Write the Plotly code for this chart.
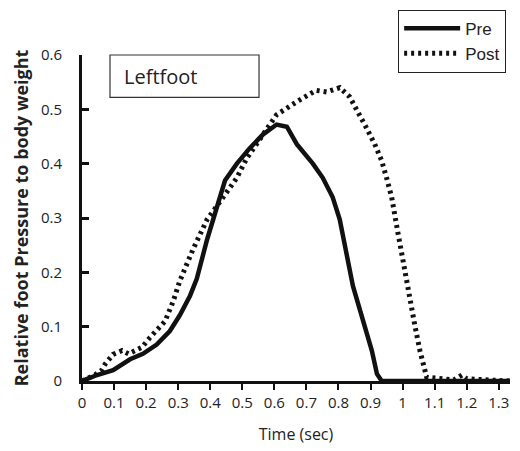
import plotly.graph_objects as go

# Pre (solid)
pre_t = [0, 0.047, 0.097, 0.15, 0.19, 0.233, 0.274, 0.305, 0.337, 0.358, 0.39, 0.42,
         0.446, 0.483, 0.524, 0.565, 0.607, 0.639, 0.67, 0.72, 0.751, 0.782, 0.804,
         0.845, 0.876, 0.904, 0.92, 0.935, 1.335]
pre_v = [0, 0.011, 0.02, 0.04, 0.05, 0.067, 0.092, 0.121, 0.157, 0.188, 0.26, 0.32,
         0.369, 0.40, 0.429, 0.454, 0.472, 0.468, 0.436, 0.40, 0.374, 0.338, 0.297,
         0.175, 0.116, 0.056, 0.013, 0, 0]

# Post (dotted)
post_t = [0, 0.04, 0.062, 0.072, 0.097, 0.125, 0.145, 0.165, 0.187, 0.212, 0.233, 0.259,
          0.284, 0.305, 0.346, 0.39, 0.44, 0.483, 0.514, 0.555, 0.607, 0.67, 0.73, 0.763,
          0.804, 0.835, 0.867, 0.888, 0.913, 0.935, 0.95, 0.966, 0.982, 1.007, 1.022,
          1.038, 1.054, 1.075, 1.16, 1.185, 1.2, 1.335]
post_v = [0, 0.011, 0.02, 0.031, 0.049, 0.056, 0.05, 0.056, 0.062, 0.08, 0.092, 0.11,
          0.146, 0.184, 0.242, 0.297, 0.338, 0.374, 0.41, 0.447, 0.49, 0.514, 0.535, 0.532,
          0.54, 0.523, 0.49, 0.465, 0.436, 0.405, 0.374, 0.338, 0.284, 0.2, 0.146,
          0.103, 0.056, 0.007, 0.002, 0.011, 0.004, 0]

x_ticks = [0, 0.1, 0.2, 0.3, 0.4, 0.5, 0.6, 0.7, 0.8, 0.9, 1.0, 1.1, 1.2, 1.3]
x_labels = ["0", "0.1", "0.2", "0.3", "0.4", "0.5", "0.6", "0.7", "0.8", "0.9", "1", "1.1", "1.2", "1.3"]
y_ticks = [0, 0.1, 0.2, 0.3, 0.4, 0.5, 0.6]
y_labels = ["0", "0.1", "0.2", "0.3", "0.4", "0.5", "0.6"]

fig = go.Figure()
fig.add_trace(go.Scatter(x=pre_t, y=pre_v, mode="lines", name="Pre",
                         line=dict(color="#111111", width=4.5)))
fig.add_trace(go.Scatter(x=post_t, y=post_v, mode="lines", name="Post",
                         line=dict(color="#111111", width=5, dash="3px,4px")))

fig.update_layout(
    width=520, height=451,
    margin=dict(l=82, r=10, t=52, b=68),
    paper_bgcolor="white", plot_bgcolor="white",
    font=dict(family="Open Sans", color="#222222", size=15),
    showlegend=True,
    legend=dict(x=0.991, xanchor="right", y=1.139, yanchor="top",
                bordercolor="#222222", borderwidth=1, bgcolor="white",
                font=dict(family="Liberation Sans", size=17, color="#222222"),
                itemwidth=56, tracegroupgap=0),
    xaxis=dict(range=[0, 1.335], tickvals=x_ticks, ticktext=x_labels,
               showgrid=False, zeroline=False, showline=True, linecolor="#111111",
               linewidth=3, ticks="outside", ticklen=6, tickwidth=2, tickcolor="#111111",
               tickfont=dict(family="Open Sans", size=15, color="#222222"),
               title=dict(text="Time (sec)", font=dict(family="Open Sans", size=16, color="#222222"),
                          standoff=18)),
    yaxis=dict(range=[0, 0.6], tickvals=y_ticks, ticktext=y_labels,
               showgrid=False, zeroline=False, showline=True, linecolor="#111111",
               linewidth=3, ticks="inside", ticklen=7, tickwidth=3, tickcolor="#111111",
               ticklabelstandoff=14,
               tickfont=dict(family="Open Sans", size=15, color="#222222"),
               title=dict(text="<b>Relative foot Pressure to body weight</b>",
                          font=dict(family="Open Sans", size=18, color="#222222"),
                          standoff=8)),
    shapes=[dict(type="rect", xref="paper", yref="paper", x0=0.0654, x1=0.4136,
                 y0=0.870, y1=1.0, line=dict(color="#333333", width=1.2),
                 fillcolor="white", layer="below")],
    annotations=[dict(text="Leftfoot", xref="paper", yref="paper", x=0.093, y=0.935,
                      xanchor="left", yanchor="middle", showarrow=False,
                      font=dict(family="Open Sans", size=20, color="#222222"))],
)

fig.write_html("out.html")
